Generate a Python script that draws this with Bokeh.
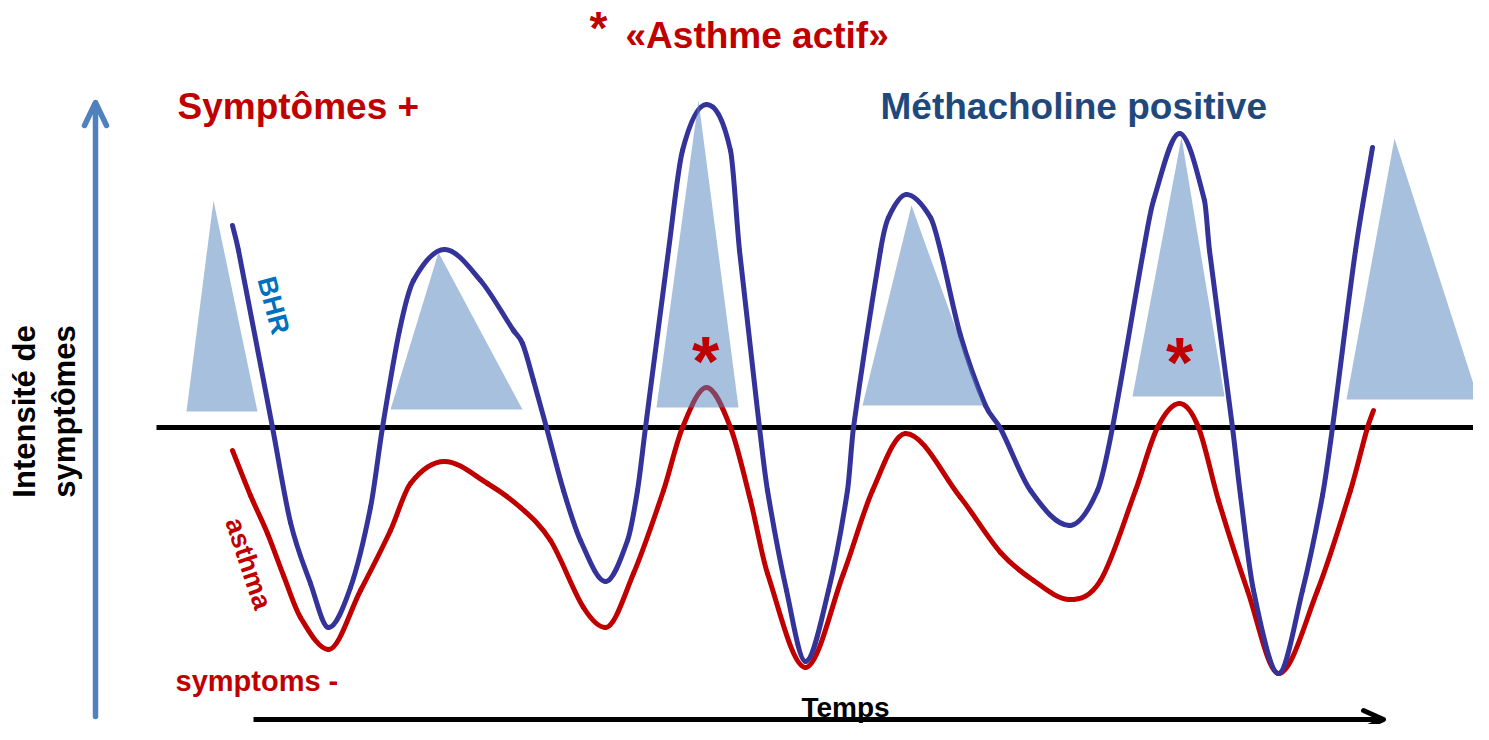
import numpy as np
from bokeh.plotting import figure
from bokeh.models import Range1d
from bokeh.core.properties import value
from bokeh.embed import file_html
from bokeh.resources import INLINE

# ---------------- data (time position, intensity relative to the threshold line) ----------------
bhr_t = [232, 238, 272, 290, 310, 328, 350, 370, 382, 399, 413, 444, 480, 513, 522, 533,
         546, 563, 580, 605, 627, 637, 645, 668, 682, 706, 730, 739, 759, 767, 786, 805,
         828, 847, 853, 880, 888, 906, 930, 940, 960, 985, 1000, 1030, 1069, 1097, 1112, 1143, 1153,
         1179, 1204, 1209, 1232, 1240, 1253, 1278, 1302, 1322, 1332, 1355, 1372]
bhr_v = [202, 177, 0, -95, -156, -200, -160, -80, 0, 97, 147, 178, 147, 97, 84, 47,
         0, -63, -113, -154, -113, -63, 0, 177, 277, 323, 277, 177, 0, -63, -163, -234,
         -163, -63, 0, 177, 210, 233, 210, 177, 92, 22, -1, -63, -98, -63, 0, 177, 227,
         294, 227, 177, 0, -68, -163, -246, -163, -68, 0, 177, 280]

asthma_t = [232, 250, 267, 283, 300, 328, 360, 390, 410, 444, 487, 520, 550, 583, 605, 633, 663, 682,
            706, 730, 750, 767, 805, 843, 872, 905, 960, 1000, 1033, 1069, 1100, 1135, 1157, 1179,
            1198, 1218, 1247, 1278, 1317, 1350, 1367, 1373]
asthma_v = [-23, -68, -106, -148, -190, -222, -163, -103, -56, -34, -56, -80, -113, -180, -200, -146, -63, 0,
            40, 0, -73, -146, -240, -146, -63, -6, -70, -125, -153, -172, -153, -63, 0, 24,
            0, -73, -163, -246, -163, -63, 0, 17]

# shaded "Méthacholine positive" triangles
tri_apex_t = [213, 438, 698, 911, 1181, 1394]
tri_apex_v = [227, 175, 327, 222, 290, 289]
tri_left_t = [186, 390, 656, 862, 1132, 1346]
tri_right_t = [257, 522, 738, 983, 1224, 1478]
tri_base_v = [16, 18, 20, 22, 31, 28]

# "active asthma" marks
star_t = [705, 1179]
star_v = [66, 65]

threshold_t = [156, 1489]
threshold_v = [0, 0]

RED = "#C00000"
NAVY = "#333399"
FONT = value("Liberation Sans")


def smooth_bezier(t, v):
    """Cubic Bezier pieces through the read points (Catmull-Rom tangents, flat at extrema)."""
    t = np.asarray(t, float)
    v = np.asarray(v, float)
    h = np.diff(t)
    delta = np.diff(v) / h
    n = len(t)
    d = np.zeros(n)
    d[0] = delta[0]
    d[-1] = delta[-1]
    for k in range(1, n - 1):
        if delta[k - 1] * delta[k] <= 0:
            d[k] = 0.0
        else:
            c = (v[k + 1] - v[k - 1]) / (t[k + 1] - t[k - 1])
            lim = 3 * min(abs(delta[k - 1]), abs(delta[k]))
            d[k] = np.sign(c) * min(abs(c), lim)
    return dict(x0=t[:-1], y0=v[:-1], x1=t[1:], y1=v[1:],
                cx0=t[:-1] + h / 3, cy0=v[:-1] + d[:-1] * h / 3,
                cx1=t[1:] - h / 3, cy1=v[1:] - d[1:] * h / 3)


p = figure(width=1473, height=724, x_range=Range1d(0, 1473), y_range=Range1d(-297, 427),
           output_backend="svg", toolbar_location=None, min_border=0,
           x_axis_type=None, y_axis_type=None)
p.grid.visible = False
p.outline_line_color = None
p.background_fill_color = "white"
p.border_fill_color = "white"

# axes arrows
p.line([95, 95], [-289, 323], line_color="#4F81BD", line_width=5.5, line_cap="round")
p.line([84, 95, 106], [302, 325, 302], line_color="#4F81BD", line_width=5.5,
       line_cap="round", line_join="round")
p.line([253, 1381], [-292, -292], line_color="black", line_width=5, line_cap="butt")
p.line([1363, 1383, 1363], [-283, -292, -301], line_color="black", line_width=5,
       line_cap="round", line_join="round")

# threshold
p.line(threshold_t, threshold_v, line_color="black", line_width=5)

# curves
b = smooth_bezier(asthma_t, asthma_v)
p.bezier(x0=b["x0"], y0=b["y0"], x1=b["x1"], y1=b["y1"], cx0=b["cx0"], cy0=b["cy0"],
         cx1=b["cx1"], cy1=b["cy1"], line_color=RED, line_width=5, line_cap="round")
b = smooth_bezier(bhr_t, bhr_v)
p.bezier(x0=b["x0"], y0=b["y0"], x1=b["x1"], y1=b["y1"], cx0=b["cx0"], cy0=b["cy0"],
         cx1=b["cx1"], cy1=b["cy1"], line_color=NAVY, line_width=5, line_cap="round")

# triangles
xs = [[l, a, r] for l, a, r in zip(tri_left_t, tri_apex_t, tri_right_t)]
ys = [[bv, av, bv] for bv, av in zip(tri_base_v, tri_apex_v)]
p.patches(xs, ys, fill_color="#4F81BD", fill_alpha=0.5, line_color=None)

# asterisks in triangles
p.text(star_t, star_v, text=["*", "*"], text_color=RED, text_font=FONT, text_font_style="bold",
       text_font_size="70px", text_align="center", text_baseline="alphabetic")

# titles
p.text([598], [400], text=["*"], text_color=RED, text_font=FONT, text_font_style="bold",
       text_font_size="46px", text_align="center", text_baseline="alphabetic")
p.text([625], [392], text=["«Asthme actif»"], text_color=RED, text_font=FONT,
       text_font_style="bold", text_font_size="37px", text_align="left", text_baseline="alphabetic")
p.text([177], [321], text=["Symptômes +"], text_color=RED, text_font=FONT,
       text_font_style="bold", text_font_size="37px", text_align="left", text_baseline="alphabetic")
p.text([880], [321], text=["Méthacholine positive"], text_color="#1F497D", text_font=FONT,
       text_font_style="bold", text_font_size="37px", text_align="left", text_baseline="alphabetic")
p.text([175], [-253], text=["symptoms -"], text_color=RED, text_font=FONT,
       text_font_style="bold", text_font_size="29px", text_align="left", text_baseline="alphabetic")
p.text([845], [-280], text=["Temps"], text_color="black", text_font=FONT,
       text_font_style="bold", text_font_size="28px", text_align="center", text_baseline="alphabetic")

# curve labels
p.text([273], [122], text=["BHR"], angle=-1.309, text_color="#0070C0", text_font=FONT,
       text_font_style="bold", text_font_size="27px", text_align="center", text_baseline="middle")
p.text([248], [-136], text=["asthma"], angle=-1.246, text_color=RED, text_font=FONT,
       text_font_style="bold", text_font_size="27px", text_align="center", text_baseline="middle")

# y-axis title
p.text([24, 64], [16, 16], text=["Intensité de", "symptômes"], angle=np.pi / 2, text_color="black",
       text_font=FONT, text_font_style="bold", text_font_size="31px", text_align="center",
       text_baseline="alphabetic")

open("out.html", "w").write(file_html(p, INLINE))
